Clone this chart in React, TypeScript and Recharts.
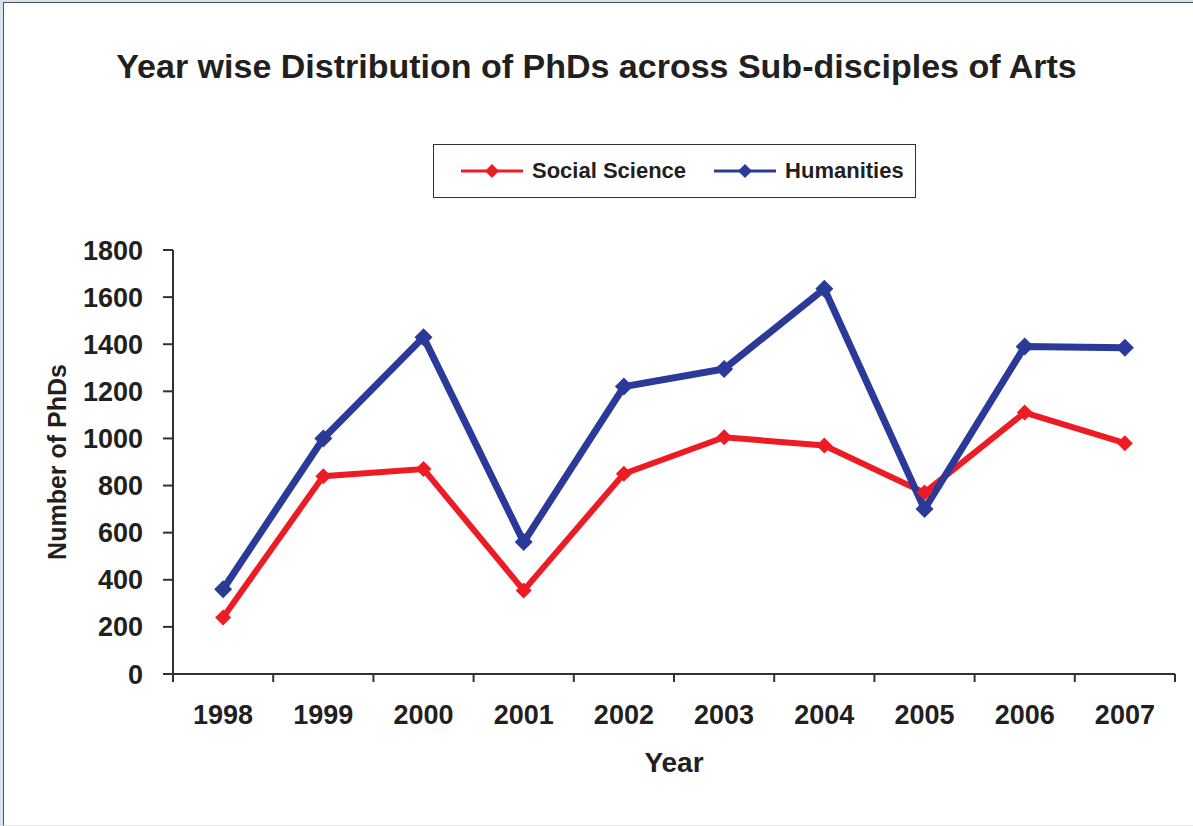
import React from "react";
import { ComposedChart, Line, XAxis, YAxis, Legend, Label } from "recharts";

const years = ["1998", "1999", "2000", "2001", "2002", "2003", "2004", "2005", "2006", "2007"];
const socialScience = [240, 840, 870, 355, 850, 1005, 970, 770, 1110, 980];
const humanities = [360, 1000, 1430, 560, 1220, 1295, 1635, 700, 1390, 1385];
const yTicks = [0, 200, 400, 600, 800, 1000, 1200, 1400, 1600, 1800];
const seriesNames = ["Social Science", "Humanities"];

const RED = "#ed1c24";
const BLUE = "#2b3a98";
const AXIS = "#2f3432";
const TEXT = "#231f20";
const FONT = "'Liberation Sans', Arial, Helvetica, sans-serif";

const data = years.map((year, i) => ({
  pos: i + 0.5,
  year,
  social: socialScience[i],
  humanities: humanities[i],
}));

const boundaryTicks = years.map((_, i) => i).concat([years.length]);
const labelTicks = years.map((_, i) => i + 0.5);
const xTicks = [...boundaryTicks, ...labelTicks].sort((a, b) => a - b);

const X_LABEL_GAP = 31;
const X_TICK_LEN = 8;

const XTick = (props: any) => {
  const { x, y, payload } = props;
  const v = payload.value;
  if (Number.isInteger(v)) {
    return (
      <line x1={x} x2={x} y1={y - X_LABEL_GAP} y2={y - X_LABEL_GAP + X_TICK_LEN} stroke={AXIS} strokeWidth={2} />
    );
  }
  const idx = Math.floor(v);
  return (
    <text x={x} y={y} dy="0.71em" textAnchor="middle" fill={TEXT} fontSize={27} fontWeight="bold" fontFamily={FONT}>
      {years[idx]}
    </text>
  );
};

const makeDot = (color: string, r: number) => (props: any) => {
  const { cx, cy, index } = props;
  if (cx == null || cy == null) return <g key={`d-${index}`} />;
  return (
    <polygon
      key={`d-${index}`}
      points={`${cx},${cy - r} ${cx + r},${cy} ${cx},${cy + r} ${cx - r},${cy}`}
      fill={color}
    />
  );
};

const LegendIcon = ({ color }: { color: string }) => (
  <svg width={62} height={16} style={{ display: "block" }}>
    <line x1={0} x2={62} y1={8} y2={8} stroke={color} strokeWidth={3} />
    <polygon points="31,1 38,8 31,15 24,8" fill={color} />
  </svg>
);

const LegendBox = (props: any) => {
  const payload = [...(props.payload || [])].sort(
    (a: any, b: any) => seriesNames.indexOf(a.value) - seriesNames.indexOf(b.value)
  );
  return (
    <div
      style={{
        boxSizing: "border-box",
        width: 483,
        height: 54,
        border: `1.5px solid ${AXIS}`,
        display: "flex",
        alignItems: "center",
        paddingLeft: 27,
        fontFamily: FONT,
        fontWeight: "bold",
        fontSize: 22,
        color: TEXT,
        background: "#fff",
      }}
    >
      {payload.map((entry: any, i: number) => (
        <div key={entry.value} style={{ display: "flex", alignItems: "center", marginLeft: i === 0 ? 0 : 28 }}>
          <LegendIcon color={entry.color} />
          <span style={{ marginLeft: 9, whiteSpace: "nowrap" }}>{entry.value}</span>
        </div>
      ))}
    </div>
  );
};

export default function App() {
  return (
    <div style={{ position: "absolute", left: 0, top: 0, width: 1193, height: 826, background: "#d5e3ee" }}>
      <div
        style={{
          position: "absolute",
          left: 3,
          top: 2,
          right: 0,
          bottom: 0,
          background: "#fff",
          borderLeft: "1.5px solid #4d5458",
          borderTop: "1.5px solid #4d5458",
          borderBottom: "1px solid #e8e8e8",
        }}
      />
      <div
        style={{
          position: "absolute",
          left: 0,
          top: 49,
          width: 1193,
          textAlign: "center",
          fontFamily: FONT,
          fontWeight: "bold",
          fontSize: 34,
          lineHeight: 1,
          color: TEXT,
          whiteSpace: "nowrap",
        }}
      >
        Year wise Distribution of PhDs across Sub-disciples of Arts
      </div>
      <div style={{ position: "absolute", left: 0, top: 0 }}>
        <ComposedChart width={1193} height={826} data={data} margin={{ top: 250, right: 18, bottom: 52, left: 20 }}>
          <XAxis
            dataKey="pos"
            type="number"
            domain={[0, years.length]}
            ticks={xTicks}
            interval={0}
            tick={<XTick />}
            tickLine={false}
            tickSize={0}
            tickMargin={X_LABEL_GAP}
            axisLine={{ stroke: AXIS, strokeWidth: 2 }}
            height={100}
            allowDecimals
          >
            <Label
              value="Year"
              position="insideTop"
              offset={78}
              fill={TEXT}
              fontSize={28}
              fontWeight="bold"
              fontFamily={FONT}
            />
          </XAxis>
          <YAxis
            type="number"
            domain={[0, 1800]}
            ticks={yTicks}
            interval={0}
            width={153}
            tickSize={10}
            tickMargin={20}
            tickLine={{ stroke: AXIS, strokeWidth: 2 }}
            axisLine={{ stroke: AXIS, strokeWidth: 2 }}
            tick={{ fill: TEXT, fontSize: 27, fontWeight: "bold", fontFamily: FONT }}
          >
            <Label
              value="Number of PhDs"
              angle={-90}
              position="insideLeft"
              offset={37}
              fill={TEXT}
              fontSize={25}
              fontWeight="bold"
              fontFamily={FONT}
              style={{ textAnchor: "middle" }}
            />
          </YAxis>
          <Legend
            layout="horizontal"
            verticalAlign="middle"
            align="center"
            content={<LegendBox />}
            wrapperStyle={{ position: "absolute", top: 144, left: 433, width: 483, height: 54 }}
          />
          <Line
            name="Social Science"
            dataKey="social"
            stroke={RED}
            strokeWidth={6}
            dot={makeDot(RED, 8)}
            activeDot={false}
            isAnimationActive={false}
          />
          <Line
            name="Humanities"
            dataKey="humanities"
            stroke={BLUE}
            strokeWidth={7}
            dot={makeDot(BLUE, 9)}
            activeDot={false}
            isAnimationActive={false}
          />
        </ComposedChart>
      </div>
    </div>
  );
}
